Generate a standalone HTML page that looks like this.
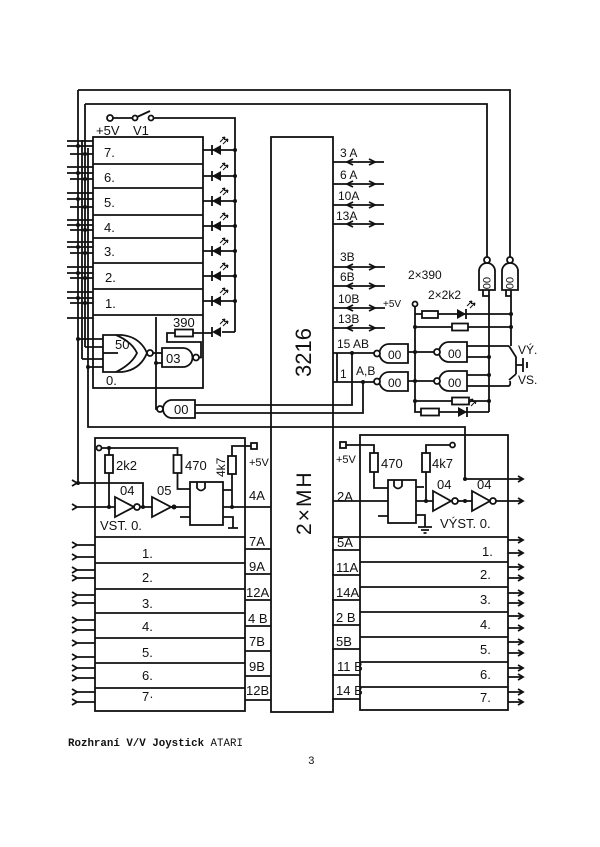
<!DOCTYPE html>
<html><head><meta charset="utf-8">
<style>
html,body{margin:0;padding:0;background:#fff;}
svg{display:block;}
text{font-family:"Liberation Sans",sans-serif;fill:#111;stroke:none;}
.m{font-family:"Liberation Mono",monospace;}
</style></head><body>
<svg width="600" height="847" viewBox="0 0 600 847" xmlns="http://www.w3.org/2000/svg">
<defs>
<g id="ledL">
<path d="M-5,-5 V5"/>
<polygon points="-5,0 4,-5 4,5" fill="#111" stroke="none"/>
<path d="M3,-8 L8,-13 M6,-6 L11,-11 M8,-13 l-3,0.6 M8,-13 l-0.6,3 M11,-11 l-3,0.6 M11,-11 l-0.6,3" stroke-width="1"/>
</g>
<g id="ledR">
<path d="M5,-5 V5"/>
<polygon points="5,0 -4,-5 -4,5" fill="#111" stroke="none"/>
<path d="M6,-8 L11,-13 M9,-6 L14,-11 M11,-13 l-3,0.6 M11,-13 l-0.6,3 M14,-11 l-3,0.6 M14,-11 l-0.6,3" stroke-width="1"/>
</g>
</defs>
<g fill="none" stroke="#111" stroke-width="1.8">

<!-- top wires -->
<path d="M78,90 H510 V257"/>
<path d="M85,104 H487 V257"/>

<!-- switch +5V V1 -->
<circle cx="110" cy="118" r="3"/>
<path d="M113,118 H132"/>
<circle cx="135" cy="118" r="2.5"/>
<path d="M137,117 L150,111"/>
<circle cx="151" cy="118" r="2.5"/>
<path d="M153.5,118 H235 V332"/>

<!-- upper block -->
<rect x="93" y="137" width="110" height="251"/>
<path d="M93,164H203M93,188H203M93,215H203M93,238H203M93,263H203M93,289H203M93,315H203"/>

<!-- left bus verticals -->
<path d="M78,90 V483"/>
<path d="M82,140 V359"/>
<path d="M85,104 V347"/>
<path d="M88,148 V427 H465 V479"/>

<!-- left horizontal lines upper block -->
<path d="M67,141H93 M67,146H93 M70,154H93 M67,167H93 M67,173H93 M70,179H93 M67,193H93 M67,199H93 M70,207H93 M67,220H93 M67,225H93 M70,230H93 M67,242H93 M67,247H93 M70,253H93 M67,267H93 M67,273H93 M70,278H93 M67,292H93 M67,298H93 M70,303H93 M67,318H93"/>

<!-- LEDs upper -->
<path d="M203,150H235M203,176H235M203,201H235M203,226H235M203,251H235M203,276H235M203,301H235"/>
<use href="#ledL" x="217" y="150"/>
<use href="#ledL" x="217" y="176"/>
<use href="#ledL" x="217" y="201"/>
<use href="#ledL" x="217" y="226"/>
<use href="#ledL" x="217" y="251"/>
<use href="#ledL" x="217" y="276"/>
<use href="#ledL" x="217" y="301"/>
<use href="#ledL" x="217" y="332"/>

<!-- gate 50 -->
<path d="M77,339 H103 M85,347 H103 M82,359 H103 M88,367 H103"/>
<path d="M103,335 H122 Q140,337 147,353 Q140,370 122,372 H103 Z" fill="#fff"/>
<path d="M116,335 Q132,342 137,353 Q132,364 116,372"/>
<path d="M103,353 H118"/>
<circle cx="150" cy="353" r="3" fill="#fff"/>
<path d="M153,353 H162"/>
<!-- gate 03 -->
<path d="M162,348 H183 A9.5,9.5 0 0 1 183,367 H162 Z" fill="#fff"/>
<circle cx="196" cy="357.5" r="3" fill="#fff"/>
<path d="M156,317 V409 H157 M156,363 H162"/>
<path d="M199,357.5 H201 V342 H167 V333 H175"/>
<rect x="175" y="329.5" width="18" height="7" fill="#fff"/>
<path d="M193,333 H212 M222,332 H235"/>
<!-- gate 00 bottom -->
<path d="M195,400 H172 A9,9 0 0 0 172,418 H195 Z" fill="#fff"/>
<circle cx="160" cy="409" r="3" fill="#fff"/>
<path d="M195,405 H352 V353 M195,413 H363 V382"/>

<!-- chip -->
<rect x="271" y="137" width="62" height="575"/>

<!-- right pins A -->
<path d="M333,162H384 M333,184H384 M333,205H384 M333,224H384"/>
<path d="M353,159L347,162L353,165 M369,159L375,162L369,165"/>
<path d="M353,181L347,184L353,187 M369,181L375,184L369,187"/>
<path d="M353,202L347,205L353,208 M369,202L375,205L369,208"/>
<path d="M353,221L347,224L353,227 M369,221L375,224L369,227"/>
<!-- right pins B -->
<path d="M333,267H385 M333,286H385 M333,308H385 M333,328H385"/>
<path d="M353,264L347,267L353,270 M369,264L375,267L369,270"/>
<path d="M353,283L347,286L353,289 M369,283L375,286L369,289"/>
<path d="M353,305L347,308L353,311 M369,305L375,308L369,311"/>
<path d="M353,325L347,328L353,331 M369,325L375,328L369,331"/>
<path d="M333,353 H374 M333,382 H374 M337,353 V382"/>

<!-- right gates -->
<path d="M408,344 H389 A9.5,9.5 0 0 0 389,363 H408 Z" fill="#fff"/>
<circle cx="377" cy="353.5" r="3" fill="#fff"/>
<path d="M408,372 H389 A9.5,9.5 0 0 0 389,391 H408 Z" fill="#fff"/>
<circle cx="377" cy="381.5" r="3" fill="#fff"/>
<path d="M408,352 H434 M408,381 H434"/>
<path d="M467,342 H449 A10,10 0 0 0 449,362 H467 Z" fill="#fff"/>
<circle cx="437" cy="352" r="3" fill="#fff"/>
<path d="M467,371 H449 A10,10 0 0 0 449,391 H467 Z" fill="#fff"/>
<circle cx="437" cy="381" r="3" fill="#fff"/>
<path d="M467,346 H509 M467,357 H489 M467,375 H489 M467,386 H508 Q511,386 510,381"/>

<!-- +5V bus -->
<circle cx="415" cy="304" r="2.5"/>
<path d="M415,306.5 V412 H421"/>
<path d="M415,314 H422 M438,314 H511"/>
<rect x="422" y="311" width="16" height="7" fill="#fff"/>
<use href="#ledR" x="461" y="314"/>
<path d="M415,327 H452 M468,327 H511"/>
<rect x="452" y="323.5" width="16" height="7" fill="#fff"/>
<path d="M415,401 H452 M469,401 H489"/>
<rect x="452" y="397.5" width="17" height="7" fill="#fff"/>
<path d="M439,412 H489"/>
<rect x="421" y="408.5" width="18" height="7" fill="#fff"/>
<use href="#ledR" x="462" y="412"/>

<!-- top-right vertical gates -->
<path d="M479,290 V271 A8,8 0 0 1 495,271 V290 Z" fill="#fff"/>
<circle cx="487" cy="260" r="3" fill="#fff"/>
<path d="M502,290 V271 A8,8 0 0 1 518,271 V290 Z" fill="#fff"/>
<circle cx="510" cy="260" r="3" fill="#fff"/>
<path d="M483,290 V296 H489 M489,290 V412"/>
<path d="M506,290 V296 H511 M511,290 V346"/>
<!-- switches -->
<path d="M509,346 L516,357 V374 M516,365 H523 M523,358 V372 M527,362 V368 M516,374 L509,380"/>

<!-- bottom-left block -->
<rect x="95" y="438" width="150" height="273"/>
<path d="M95,537H245 M95,563H245 M95,589H245 M95,613H245 M95,638H245 M95,663H245 M95,688H245"/>
<path d="M245,549H271 M245,574H271 M245,600H271 M245,626H271 M245,651H271 M245,676H271 M245,700H271"/>
<circle cx="99" cy="448" r="2.5"/>
<path d="M101.5,448 H177.5 V455"/>
<path d="M109,448 V455 M109,473 V507"/>
<rect x="105" y="455" width="8" height="18" fill="#fff"/>
<rect x="173.5" y="455" width="8" height="18" fill="#fff"/>
<path d="M177.5,473 V489 H190"/>
<rect x="228" y="456" width="8" height="18" fill="#fff"/>
<path d="M232,456 V446 H251"/>
<rect x="251" y="443" width="6" height="6"/>
<path d="M232,474 V507"/>
<polygon points="115,497 115,517 134,507" fill="#fff"/>
<circle cx="137" cy="507" r="3" fill="#fff"/>
<polygon points="152,497 152,517 171,507" fill="#fff"/>
<path d="M72,480 L77,483 L72,486 M77,483 H143 V507 M72,504 L77,507 L72,510 M77,507 H115 M140,507 H152 M171,507 H190"/>
<rect x="190" y="482" width="33" height="43" fill="#fff"/>
<path d="M197,482 V488 Q201,493 205,488 V482"/>
<path d="M223,490 H232 M180,517 H190 M223,507 H271 M223,517 H233 V528 M228,528 H238"/>
<!-- left input arrows -->
<path d="M72,542L77,545L72,548 M77,545H95 M72,554L77,557L72,560 M77,557H95 M72,567L77,570L72,573 M77,570H95 M72,575L77,578L72,581 M77,578H95 M72,592L77,595L72,598 M77,595H95 M72,600L77,603L72,606 M77,603H95 M72,617L77,620L72,623 M77,620H95 M72,627L77,630L72,633 M77,630H95 M72,640L77,643L72,646 M77,643H95 M72,654L77,657L72,660 M77,657H95 M72,665L77,668L72,671 M77,668H95 M72,675L77,678L72,681 M77,678H95 M72,689L77,692L72,695 M77,692H95 M72,699L77,702L72,705 M77,702H95"/>

<!-- bottom-right block -->
<rect x="360" y="435" width="148" height="275"/>
<path d="M360,537H508 M360,562H508 M360,587H508 M360,612H508 M360,637H508 M360,662H508 M360,687H508"/>
<path d="M332,537H360 M332,550H360 M332,575H360 M332,600H360 M332,625H360 M332,649H360 M332,675H360 M332,699H360"/>
<rect x="340" y="442" width="6" height="6"/>
<path d="M346,445 H374 V453"/>
<rect x="370" y="453" width="8" height="19" fill="#fff"/>
<path d="M374,472 V488 H388"/>
<rect x="388" y="480" width="28" height="43" fill="#fff"/>
<path d="M394,480 V486 Q398,491 402,486 V480"/>
<path d="M378,516 H388 M416,487 H424 M333,501 H388 M416,515 H425 V527 M418,527 H432 M421,530 H429 M423.5,533 H426.5"/>
<path d="M416,501 H433"/>
<rect x="422" y="453" width="8" height="19" fill="#fff"/>
<path d="M426,472 V501 M426,453 V445 H450"/>
<circle cx="452.5" cy="445" r="2.5"/>
<polygon points="433,491 433,511 451,501" fill="#fff"/>
<circle cx="455" cy="501" r="3" fill="#fff"/>
<path d="M458,501 H472"/>
<polygon points="472,491 472,511 490,501" fill="#fff"/>
<circle cx="493" cy="501" r="3" fill="#fff"/>
<path d="M496,501 H523 M518,498L523,501L518,504 M465,479 H523 M518,476L523,479L518,482"/>
<!-- right output arrows -->
<path d="M508,540H523 M518,537L523,540L518,543 M508,553H523 M518,550L523,553L518,556 M508,567H523 M518,564L523,567L518,570 M508,578H523 M518,575L523,578L518,581 M508,593H523 M518,590L523,593L518,596 M508,603H523 M518,600L523,603L518,606 M508,616H523 M518,613L523,616L518,619 M508,628H523 M518,625L523,628L518,631 M508,642H523 M518,639L523,642L518,645 M508,653H523 M518,650L523,653L518,656 M508,668H523 M518,665L523,668L518,671 M508,677H523 M518,674L523,677L518,680 M508,692H523 M518,689L523,692L518,695 M508,702H523 M518,699L523,702L518,705"/>
</g>

<!-- dots -->
<g fill="#111" stroke="none">
<circle cx="78" cy="146" r="2"/><circle cx="85" cy="154" r="2"/>
<circle cx="78" cy="173" r="2"/><circle cx="85" cy="179" r="2"/>
<circle cx="78" cy="199" r="2"/><circle cx="85" cy="207" r="2"/>
<circle cx="78" cy="225" r="2"/><circle cx="85" cy="230" r="2"/>
<circle cx="78" cy="247" r="2"/><circle cx="85" cy="253" r="2"/>
<circle cx="78" cy="273" r="2"/><circle cx="85" cy="278" r="2"/>
<circle cx="78" cy="298" r="2"/><circle cx="85" cy="303" r="2"/>
<circle cx="78" cy="339" r="2"/><circle cx="88" cy="367" r="2"/>
<circle cx="235" cy="150" r="2"/><circle cx="235" cy="176" r="2"/><circle cx="235" cy="201" r="2"/><circle cx="235" cy="226" r="2"/><circle cx="235" cy="251" r="2"/><circle cx="235" cy="276" r="2"/><circle cx="235" cy="301" r="2"/>
<circle cx="156" cy="363" r="2"/>
<circle cx="352" cy="353" r="2"/><circle cx="363" cy="382" r="2"/>
<circle cx="415" cy="327" r="2"/><circle cx="415" cy="352" r="2"/><circle cx="415" cy="381" r="2"/><circle cx="415" cy="401" r="2"/>
<circle cx="511" cy="314" r="2"/><circle cx="511" cy="327" r="2"/>
<circle cx="489" cy="357" r="2"/><circle cx="489" cy="375" r="2"/><circle cx="489" cy="401" r="2"/>
<circle cx="78" cy="483" r="2"/><circle cx="109" cy="448" r="2"/><circle cx="109" cy="507" r="2"/><circle cx="143" cy="507" r="2"/><circle cx="174" cy="507" r="2.5"/><circle cx="232" cy="507" r="2"/>
<circle cx="426" cy="501" r="2"/><circle cx="465" cy="501" r="2"/><circle cx="465" cy="479" r="2"/>
</g>

<!-- text -->
<g font-size="13">
<text x="96" y="135">+5V</text><text x="133" y="135">V1</text>
<text x="104" y="157">7.</text><text x="104" y="182">6.</text><text x="104" y="207">5.</text><text x="104" y="232">4.</text><text x="104" y="256">3.</text><text x="105" y="282">2.</text><text x="105" y="308">1.</text><text x="106" y="385">0.</text>
<text x="173" y="327">390</text>
<text x="115" y="349">50</text>
<text x="166" y="363">03</text>
<text x="174" y="414">00</text>
</g>
<g font-size="12">
<text x="340" y="157">3 A</text><text x="340" y="179">6 A</text><text x="338" y="200">10A</text><text x="336" y="220">13A</text>
<text x="340" y="261">3B</text><text x="340" y="281">6B</text><text x="338" y="303">10B</text><text x="338" y="323">13B</text>
<text x="337" y="348">15 AB</text><text x="340" y="378">1</text><text x="356" y="375">A,B</text>
<text x="388" y="359">00</text><text x="388" y="387">00</text><text x="448" y="358">00</text><text x="448" y="387">00</text>
<text x="408" y="279">2×390</text><text x="428" y="299">2×2k2</text>
<text x="383" y="307" font-size="10">+5V</text>
<text x="518" y="354">VÝ.</text><text x="518" y="384">VS.</text>
<text transform="translate(483,277) rotate(90)" font-size="11">00</text>
<text transform="translate(506,277) rotate(90)" font-size="11">00</text>
</g>
<text transform="translate(311,377) rotate(-90)" font-size="22">3216</text>
<text transform="translate(311,535) rotate(-90)" font-size="21" letter-spacing="2">2×MH</text>

<g font-size="13">
<text x="116" y="470">2k2</text><text x="185" y="470">470</text>
<text transform="translate(225,477) rotate(-90)" font-size="12">4k7</text>
<text x="249" y="466" font-size="11">+5V</text>
<text x="120" y="495">04</text><text x="157" y="495">05</text>
<text x="100" y="530">VST. 0.</text>
<text x="249" y="500">4A</text>
<text x="249" y="546">7A</text><text x="249" y="571">9A</text><text x="246" y="597">12A</text><text x="248" y="623">4 B</text><text x="249" y="646">7B</text><text x="249" y="671">9B</text><text x="246" y="695">12B</text>
<text x="142" y="558">1.</text><text x="142" y="582">2.</text><text x="142" y="608">3.</text><text x="142" y="631">4.</text><text x="142" y="657">5.</text><text x="142" y="680">6.</text><text x="142" y="701">7·</text>

<text x="336" y="463" font-size="11">+5V</text>
<text x="381" y="468">470</text><text x="432" y="468">4k7</text>
<text x="337" y="501">2A</text>
<text x="437" y="489">04</text><text x="477" y="489">04</text>
<text x="440" y="528">VÝST. 0.</text>
<text x="337" y="547">5A</text><text x="336" y="572">11A</text><text x="336" y="597">14A</text><text x="336" y="622">2 B</text><text x="336" y="646">5B</text><text x="337" y="671">11 B</text><text x="336" y="695">14 B</text>
<text x="482" y="556">1.</text><text x="480" y="579">2.</text><text x="480" y="604">3.</text><text x="480" y="629">4.</text><text x="480" y="654">5.</text><text x="480" y="679">6.</text><text x="480" y="702">7.</text>
</g>

<text class="m" x="68" y="746" font-size="10.8" font-weight="bold">Rozhraní V/V Joystick <tspan font-weight="normal">ATARI</tspan></text>
<text class="m" x="308" y="764" font-size="11">3</text>
</svg>
</body></html>
